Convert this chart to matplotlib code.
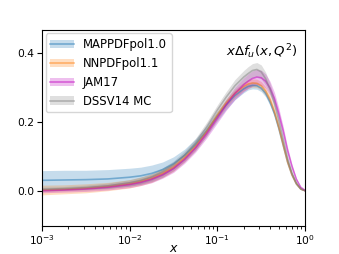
import numpy as np
import matplotlib
matplotlib.use("Agg")
import matplotlib.pyplot as plt

# log10(x) grid
logx = [-3, -2.75, -2.5, -2.25, -2, -1.875, -1.75, -1.625, -1.5, -1.375, -1.25, -1.125, -1.0, -0.9,
        -0.8, -0.7, -0.65, -0.6, -0.55, -0.5, -0.45, -0.4, -0.35, -0.3, -0.25, -0.2, -0.15, -0.1, -0.05, 0]

map_c = [0.032, 0.033, 0.034, 0.036, 0.041, 0.045, 0.052, 0.063, 0.080, 0.104, 0.135, 0.174, 0.218, 0.250,
         0.277, 0.296, 0.303, 0.306, 0.305, 0.298, 0.283, 0.258, 0.225, 0.182, 0.133, 0.085, 0.048, 0.022, 0.007, 0.002]
map_e = [0.028, 0.028, 0.027, 0.027, 0.026, 0.025, 0.024, 0.022, 0.020, 0.018, 0.017, 0.015, 0.014, 0.013,
         0.012, 0.011, 0.010, 0.010, 0.010, 0.010, 0.010, 0.010, 0.009, 0.008, 0.007, 0.006, 0.004, 0.003, 0.002, 0.001]

nn_c = [0.004, 0.006, 0.009, 0.014, 0.022, 0.029, 0.038, 0.052, 0.070, 0.097, 0.130, 0.172, 0.220, 0.255,
        0.283, 0.303, 0.310, 0.313, 0.312, 0.305, 0.290, 0.265, 0.230, 0.185, 0.135, 0.085, 0.048, 0.022, 0.007, 0.002]
nn_e = [0.014, 0.013, 0.013, 0.012, 0.012, 0.012, 0.012, 0.012, 0.012, 0.012, 0.012, 0.012, 0.012, 0.012,
        0.012, 0.012, 0.012, 0.012, 0.012, 0.012, 0.012, 0.012, 0.011, 0.010, 0.009, 0.007, 0.005, 0.003, 0.002, 0.001]

jam_c = [0.002, 0.004, 0.007, 0.012, 0.020, 0.026, 0.035, 0.048, 0.066, 0.092, 0.125, 0.166, 0.212, 0.250,
         0.283, 0.308, 0.318, 0.326, 0.330, 0.328, 0.318, 0.298, 0.268, 0.225, 0.175, 0.118, 0.072, 0.035, 0.012, 0.003]
jam_e = [0.006, 0.006, 0.007, 0.008, 0.009, 0.009, 0.010, 0.010, 0.011, 0.011, 0.012, 0.013, 0.014, 0.016,
         0.018, 0.020, 0.021, 0.022, 0.022, 0.022, 0.021, 0.020, 0.018, 0.016, 0.013, 0.010, 0.007, 0.004, 0.002, 0.001]

dssv_c = [0.006, 0.008, 0.011, 0.016, 0.025, 0.032, 0.042, 0.057, 0.077, 0.105, 0.140, 0.185, 0.235, 0.272,
          0.305, 0.330, 0.340, 0.349, 0.352, 0.345, 0.325, 0.295, 0.255, 0.205, 0.150, 0.095, 0.053, 0.024, 0.008, 0.002]
dssv_e = [0.006, 0.006, 0.007, 0.008, 0.009, 0.010, 0.010, 0.011, 0.011, 0.012, 0.013, 0.014, 0.015, 0.016,
          0.018, 0.019, 0.020, 0.020, 0.020, 0.020, 0.019, 0.017, 0.015, 0.012, 0.010, 0.007, 0.005, 0.003, 0.002, 0.001]

labels = ["MAPPDFpol1.0", "NNPDFpol1.1", "JAM17", "DSSV14 MC"]
colors = ["tab:blue", "tab:orange", "m", "gray"]

x = 10.0 ** np.array(logx)

fig = plt.figure(figsize=(3.39, 2.54), dpi=100)
ax = fig.add_axes([0.124, 0.110, 0.776, 0.772])

handles = []
for c, e, col in zip([map_c, nn_c, jam_c, dssv_c], [map_e, nn_e, jam_e, dssv_e], colors):
    c = np.array(c); e = np.array(e)
    f = ax.fill_between(x, c - e, c + e, color=col, alpha=0.25, lw=0)
    l, = ax.plot(x, c, color=col, alpha=0.5, lw=1.2)
    handles.append((f, l))

ax.set_xscale("log")
ax.set_xlim(1e-3, 1)
ax.set_ylim(-0.1, 0.466)
ax.set_yticks([0.0, 0.2, 0.4])
ax.tick_params(labelsize=7.7, pad=2)
ax.set_xlabel("$x$", fontsize=9, va="center")
ax.xaxis.set_label_coords(0.5, -0.112)
ax.text(0.97, 0.888, r"$x\Delta f_u(x,Q^2)$", transform=ax.transAxes,
        ha="right", va="center", fontsize=9.5)
ax.legend(handles, labels, loc="upper left", fontsize=8.4, borderaxespad=0.3)

fig.savefig("out.png", dpi=100)
